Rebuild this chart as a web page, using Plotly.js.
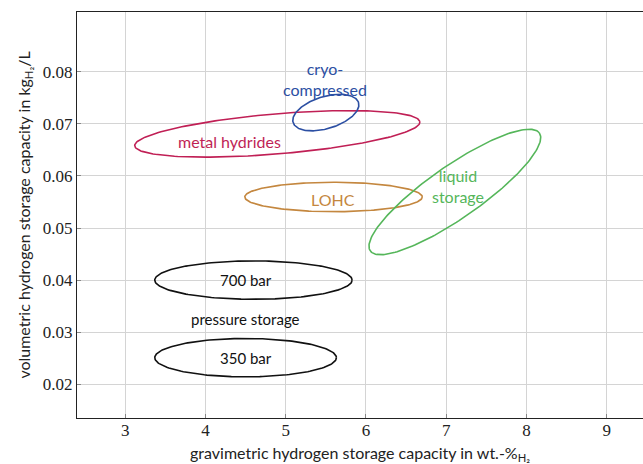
<!DOCTYPE html>
<html>
<head>
<meta charset="utf-8">
<script src="https://cdn.plot.ly/plotly-3.0.1.min.js"></script>
<style>html,body{margin:0;padding:0;background:#fff;}#chart{width:643px;height:464px;}</style>
</head>
<body>
<div id="chart"></div>
<script>
// Storage technology regions (ellipses): centre and two conjugate half-axis vectors, in data units
var names      = ["700 bar", "350 bar", "metal hydrides", "cryo-compressed", "LOHC", "liquid storage"];
var centerX    = [4.598, 4.50, 4.895, 5.50, 5.596, 7.108];
var centerY    = [0.0400, 0.0251, 0.06808, 0.07217, 0.05596, 0.05692];
var majorDX    = [1.230, 1.132, 1.777, 0.4078, 1.106, 1.0539];
var majorDY    = [0.0, 0.0, 0.002296, 0.001923, 0.0, 0.011318];
var minorDX    = [0.0, 0.0, 0.02082, 0.05833, 0.0, 0.18596];
var minorDY    = [-0.00369, -0.00369, -0.003833, -0.002943, -0.002827, -0.004119];
var colors     = ["#111111", "#111111", "#c01f55", "#2c4fa3", "#c4873f", "#55b65a"];

// Text labels
var labelText  = ["700 bar", "350 bar", "pressure storage", "metal hydrides", "cryo-<br>compressed", "LOHC", "liquid<br>storage"];
var labelX     = [4.50, 4.50, 4.50, 4.303, 5.49, 5.59, 7.146];
var labelY     = [0.0400, 0.0251, 0.0326, 0.0666, 0.0786, 0.0554, 0.0580];
var labelColor = ["#111111", "#111111", "#111111", "#c01f55", "#2c4fa3", "#c4873f", "#55b65a"];
var labelSize  = [15, 15, 15, 16, 16, 16, 16];

var xTicks = [3, 4, 5, 6, 7, 8, 9];
var yTicks = [0.02, 0.03, 0.04, 0.05, 0.06, 0.07, 0.08];

var traces = [];
var N = 200;
for (var i = 0; i < names.length; i++) {
  var xs = [], ys = [];
  for (var k = 0; k <= N; k++) {
    var t = 2 * Math.PI * k / N;
    xs.push(centerX[i] + majorDX[i] * Math.cos(t) + minorDX[i] * Math.sin(t));
    ys.push(centerY[i] + majorDY[i] * Math.cos(t) + minorDY[i] * Math.sin(t));
  }
  traces.push({x: xs, y: ys, mode: "lines", name: names[i],
    line: {color: colors[i], width: 1.6}, hoverinfo: "skip", showlegend: false});
}

var annotations = [];
for (var j = 0; j < labelText.length; j++) {
  annotations.push({x: labelX[j], y: labelY[j], xref: "x", yref: "y", text: labelText[j],
    showarrow: false, font: {family: "Lato, Open Sans, sans-serif", size: labelSize[j], color: labelColor[j]},
    align: "center"});
}

var serif = "Liberation Serif, DejaVu Serif, serif";

var layout = {
  width: 643, height: 464,
  margin: {l: 77, r: 0, t: 12, b: 46},
  paper_bgcolor: "#fff", plot_bgcolor: "#fff",
  showlegend: false,
  xaxis: {
    range: [2.399, 9.453], tickvals: xTicks, ticktext: xTicks.map(String),
    showgrid: true, gridcolor: "#d4d4d4", gridwidth: 1, zeroline: false,
    showline: true, linecolor: "#222", linewidth: 1.2, mirror: true,
    ticks: "inside", ticklen: 4, tickcolor: "#888", ticklabelstandoff: -4,
    tickfont: {family: serif, size: 17, color: "#222"},
    title: {text: "gravimetric hydrogen storage capacity in wt.-%<sub>H₂</sub>", standoff: 9,
      font: {family: "Lato, Open Sans, sans-serif", size: 16, color: "#222"}}
  },
  yaxis: {
    range: [0.01352, 0.09148], tickvals: yTicks, ticktext: yTicks.map(function(v){return v.toFixed(2);}),
    showgrid: true, gridcolor: "#d4d4d4", gridwidth: 1, zeroline: false,
    showline: true, linecolor: "#222", linewidth: 1.2,
    ticks: "inside", ticklen: 4, tickcolor: "#888",
    tickfont: {family: serif, size: 17, color: "#222"},
    title: {text: "volumetric hydrogen storage capacity in kg<sub>H₂</sub>/L", standoff: 8,
      font: {family: "Lato, Open Sans, sans-serif", size: 16, color: "#222"}}
  },
  annotations: annotations
};

Plotly.newPlot("chart", traces, layout, {staticPlot: true, displayModeBar: false});
</script>
</body>
</html>
